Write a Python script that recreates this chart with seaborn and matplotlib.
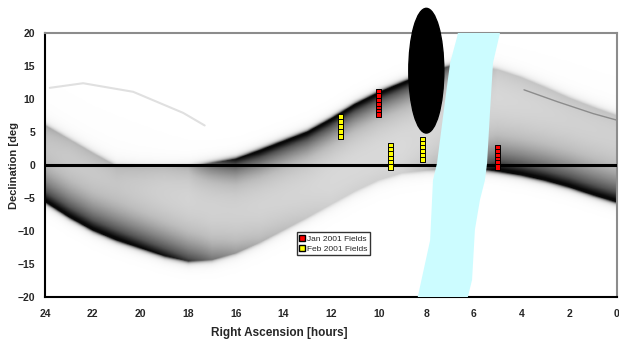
import numpy as np
import pandas as pd
import matplotlib
matplotlib.use('Agg')
from matplotlib import pyplot as plt
from matplotlib.patches import Ellipse
from matplotlib.lines import Line2D
import seaborn as sns

# 背景の帯（画像から読み取った包絡線）
ra_grid = np.array([24, 23, 22, 21, 20, 19, 18, 17, 16, 15, 14, 13, 12,
                    11, 10, 9, 8, 7, 6, 5, 4, 3, 2, 1, 0], dtype=float)
lower_edge = np.array([-5.6, -7.9, -9.9, -11.4, -12.6, -13.8, -14.6, -14.4, -13.4,
                       -11.8, -9.9, -8.0, -6.0, -4.0, -2.3, -1.2, -0.8, -0.6,
                       -0.5, -0.9, -1.5, -2.3, -3.3, -4.5, -5.6])
upper_edge = np.array([6.0, 3.9, 1.8, -0.2, -0.4, -0.4, -0.3, 0.3, 0.9, 2.2, 3.6,
                       5.0, 7.0, 9.2, 11.0, 12.5, 14.0, 15.0, 15.0, 14.5, 13.3,
                       11.8, 10.2, 8.8, 7.5])
# 縁の濃さ（0〜1）
lower_dark = np.array([1.0, 1.0, 1.0, 1.0, 0.95, 0.9, 0.75, 0.5, 0.35, 0.25, 0.2,
                       0.15, 0.1, 0.1, 0.1, 0.1, 0.2, 0.4, 0.7, 1.0, 1.0, 1.0,
                       1.0, 1.0, 1.0])
upper_dark = np.array([0.25, 0.2, 0.2, 0.2, 0.2, 0.2, 0.25, 0.6, 0.9, 1.0, 1.0, 1.0,
                       1.0, 1.0, 1.0, 1.0, 1.0, 0.6, 0.4, 0.15, 0.15, 0.15,
                       0.15, 0.15, 0.15])

# うすい軌跡
arc_ra = [23.8, 22.4, 20.3, 18.2, 17.3]
arc_dec = [11.7, 12.4, 11.1, 7.9, 6.0]
right_track_ra = [3.9, 2.5, 1.0, 0.0]
right_track_dec = [11.4, 9.6, 7.8, 6.8]

# 天の川（水色の帯）
band_ra = [8.39, 7.84, 7.72, 7.55, 7.21, 7.0, 6.71, 6.65, 4.9, 4.91, 5.2, 5.33,
           5.45, 5.54, 5.75, 5.96, 6.08, 6.29]
band_dec = [-20.5, -11.4, -2.3, 0.3, 9.8, 15.5, 19.4, 20.5, 20.5, 20.0, 15.5, 7.9,
            0.3, -2.3, -5.3, -9.8, -17.4, -20.5]

# 黒い楕円
ellipse_ra, ellipse_dec = 8.0, 14.3
ellipse_w, ellipse_h = 1.47, 18.9

# 観測フィールド
jan_ra = [10.0, 10.0, 10.0, 10.0, 10.0, 10.0, 10.0, 5.0, 5.0, 5.0, 5.0, 5.0, 5.0]
jan_dec = [11.1, 10.5, 9.8, 9.2, 8.6, 8.1, 7.6, 2.7, 2.1, 1.5, 0.9, 0.3, -0.3]
feb_ra = [11.6, 11.6, 11.6, 11.6, 11.6, 9.5, 9.5, 9.5, 9.5, 9.5, 9.5,
          8.15, 8.15, 8.15, 8.15, 8.15, 8.15]
feb_dec = [7.3, 6.6, 5.8, 5.0, 4.3, 3.0, 2.3, 1.7, 1.0, 0.3, -0.3,
           3.9, 3.3, 2.7, 2.1, 1.5, 0.9]

fields = pd.DataFrame({
    'ra': jan_ra + feb_ra,
    'dec': jan_dec + feb_dec,
    'month': ['Jan 2001 Fields'] * len(jan_ra) + ['Feb 2001 Fields'] * len(feb_ra),
})

sns.set_style('white')
plt.rcParams['font.family'] = ['Liberation Sans', 'DejaVu Sans']

fig = plt.figure(figsize=(6.19, 3.41), dpi=100)
ax = fig.add_axes([0.0727, 0.129, 0.924, 0.774])

# 背景の濃淡（包絡線からラスタを作る）
col_ra = np.linspace(24, 0, 600)
row_dec = np.linspace(20, -20, 320)
L = np.interp(col_ra, ra_grid[::-1], lower_edge[::-1])
U = np.interp(col_ra, ra_grid[::-1], upper_edge[::-1])
sL = np.interp(col_ra, ra_grid[::-1], lower_dark[::-1])
sU = np.interp(col_ra, ra_grid[::-1], upper_dark[::-1])
D = row_dec[:, None]
above_L = D - L[None, :]
below_U = U[None, :] - D
inside = np.minimum(above_L, below_U)
base = 0.2 * np.where(inside >= 0, 1.0, np.exp(inside / 0.7))
edge_lo = sL[None, :] * 0.85 * np.where(above_L >= 0, np.exp(-above_L / 3.5),
                                        np.exp(above_L / 0.35))
edge_hi = sU[None, :] * 0.85 * np.where(below_U >= 0, np.exp(-below_U / 2.6),
                                        np.exp(below_U / 0.35))
shade = np.clip(base + edge_lo + edge_hi, 0, 0.97)
ax.imshow(shade, cmap='Greys', vmin=0, vmax=1, extent=(24, 0, -20, 20),
          aspect='auto', interpolation='bilinear', zorder=1)

sns.lineplot(x=arc_ra, y=arc_dec, color='0.88', lw=1.5, sort=False, ax=ax, zorder=2)
sns.lineplot(x=right_track_ra, y=right_track_dec, color='0.55', lw=1.0, sort=False,
             ax=ax, zorder=2)

# 赤道線
ax.axhline(0, color='black', lw=2.2, zorder=3)

# 天の川
ax.fill(band_ra, band_dec, color='#ccfcff', lw=0, zorder=4)

# 楕円
ax.add_patch(Ellipse((ellipse_ra, ellipse_dec), ellipse_w, ellipse_h,
                     color='black', clip_on=False, zorder=6))

# フィールド
sns.scatterplot(data=fields, x='ra', y='dec', hue='month', marker='s', s=14,
                palette={'Jan 2001 Fields': '#ff0000', 'Feb 2001 Fields': '#ffff00'},
                edgecolor='black', linewidth=0.7, legend=False, ax=ax, zorder=5)

handles = [
    Line2D([], [], marker='s', ls='', markerfacecolor='#ff0000',
           markeredgecolor='black', markersize=4, label='Jan 2001 Fields'),
    Line2D([], [], marker='s', ls='', markerfacecolor='#ffff00',
           markeredgecolor='black', markersize=4, label='Feb 2001 Fields'),
]
leg = ax.legend(handles=handles, loc='lower left', bbox_to_anchor=(0.44, 0.159),
                fontsize=6, frameon=True, fancybox=False, borderpad=0.3,
                handletextpad=0.1, labelspacing=0.25, handlelength=0.8,
                borderaxespad=0)
leg.get_frame().set_edgecolor('black')
leg.get_frame().set_linewidth(1)
leg.set_zorder(7)

# 軸
ax.set_xlim(24, 0)
ax.set_ylim(-20, 20)
ax.set_xticks(np.arange(24, -1, -2))
ax.set_xticks(np.arange(23, 0, -2), minor=True)
ax.set_yticks(np.arange(-20, 21, 5))
ax.tick_params(axis='both', which='both', direction='out', length=3.5, width=1,
               color='black', labelsize=7.5)
ax.tick_params(axis='x', pad=5)
for lab in ax.get_xticklabels() + ax.get_yticklabels():
    lab.set_fontweight('bold')

for side in ['left', 'bottom']:
    ax.spines[side].set_color('black')
    ax.spines[side].set_linewidth(1.5)
for side in ['top', 'right']:
    ax.spines[side].set_color('#8c8c8c')
    ax.spines[side].set_linewidth(1.5)

ax.set_xlabel('Right Ascension [hours]', fontsize=8.5, fontweight='bold')
ax.xaxis.set_label_coords(0.41, -0.115)
ax.set_ylabel('Declination [deg', fontsize=8, fontweight='bold')
ax.yaxis.set_label_coords(-0.045, 0.5)

fig.savefig('out.png', dpi=100)
